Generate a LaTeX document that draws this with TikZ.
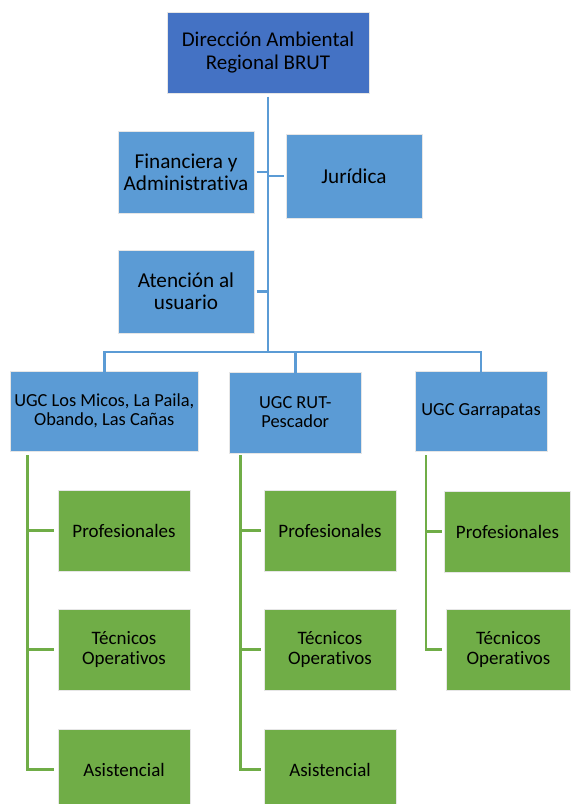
\documentclass[tikz,border=0pt]{standalone}
\usepackage{fontspec}
\setmainfont{Carlito}[Ligatures=NoCommon]
\definecolor{topblue}{HTML}{4472C4}
\definecolor{midblue}{HTML}{5B9BD5}
\definecolor{grn}{HTML}{70AD47}
\definecolor{edge}{HTML}{E6E6E6}
\begin{document}
\begin{tikzpicture}[x=1pt,y=-1pt,
  bx/.style={draw=edge,line width=1pt,inner sep=0pt,align=center,text=black},
  topbox/.style={bx,fill=topblue,minimum width=202pt,minimum height=81pt,font=\fontsize{21}{23}\selectfont},
  staff/.style={bx,fill=midblue,minimum width=136pt,minimum height=82pt,font=\fontsize{21.2}{22}\selectfont},
  ugc/.style={bx,fill=midblue,minimum height=80pt,font=\fontsize{18.4}{19}\selectfont},
  gbox/.style={bx,fill=grn,minimum width=132pt,minimum height=81pt,font=\fontsize{19}{20.5}\selectfont},
  bline/.style={draw=midblue,line width=2.8pt},
  gline/.style={draw=grn,line width=2.5pt}]
\clip (0,0) rectangle (571,804);
\fill[white] (0,0) rectangle (571,804);
% top
\node[topbox] (top) at (268,52.5) {Dirección Ambiental\\Regional BRUT};
\node[staff] (fin) at (186,172) {Financiera y\\Administrativa};
\node[staff,minimum height=84pt] (jur) at (354,176) {Jurídica};
\node[staff,minimum height=83pt] (ate) at (186,291.5) {Atención al\\usuario};
% UGC
\node[ugc,minimum width=188.5pt] (u1) at (104.25,411) {UGC Los Micos, La Paila,\\Obando, Las Cañas};
\node[ugc,minimum width=131.5pt,minimum height=81pt] (u2) at (295.25,412.5) {UGC RUT-\\Pescador};
\node[ugc,minimum width=132pt] (u3) at (481,411) {UGC Garrapatas};
% green
\node[gbox] (p1) at (124,530.5) {Profesionales};
\node[gbox] (t1) at (124,649.5) {Técnicos\\Operativos};
\node[gbox] (a1) at (124,769.5) {Asistencial};
\node[gbox] (p2) at (330,530.5) {Profesionales};
\node[gbox] (t2) at (330,649.5) {Técnicos\\Operativos};
\node[gbox] (a2) at (330,769.5) {Asistencial};
\node[gbox,minimum width=126pt] (p3) at (507.5,531.5) {Profesionales};
\node[gbox,minimum width=124pt] (t3) at (508.5,649.5) {Técnicos\\Operativos};
% blue connectors
\coordinate (bus) at (268,352);
\draw[bline] ([yshift=-3pt]top.south) -- (bus);
\draw[bline] ([xshift=2pt]fin.east) -- (fin.east -| bus);
\draw[bline] ([xshift=-2pt]jur.west) -- (jur.west -| bus);
\draw[bline] ([xshift=2pt]ate.east) -- (ate.east -| bus);
\draw[bline] ([yshift=-4pt]u1.north) |- (bus);
\draw[bline] ([yshift=-4pt]u3.north) |- (bus);
\draw[bline] ([yshift=-3pt]u2.north) -- (u2.north |- bus);
% green connectors
\coordinate (g1) at (27.3,455);
\coordinate (g2) at (240.4,455);
\coordinate (g3) at (426.2,455);
\draw[gline] (g1) |- ([xshift=-4pt]a1.west);
\draw[gline] (g1 |- p1.west) -- ([xshift=-4pt]p1.west);
\draw[gline] (g1 |- t1.west) -- ([xshift=-4pt]t1.west);
\draw[gline] (g2) |- ([xshift=-3pt]a2.west);
\draw[gline] (g2 |- p2.west) -- ([xshift=-3pt]p2.west);
\draw[gline] (g2 |- t2.west) -- ([xshift=-3pt]t2.west);
\draw[gline] (g3) |- ([xshift=-4pt]t3.west);
\draw[gline] (g3 |- p3.west) -- ([xshift=-2pt]p3.west);
\end{tikzpicture}
\end{document}
